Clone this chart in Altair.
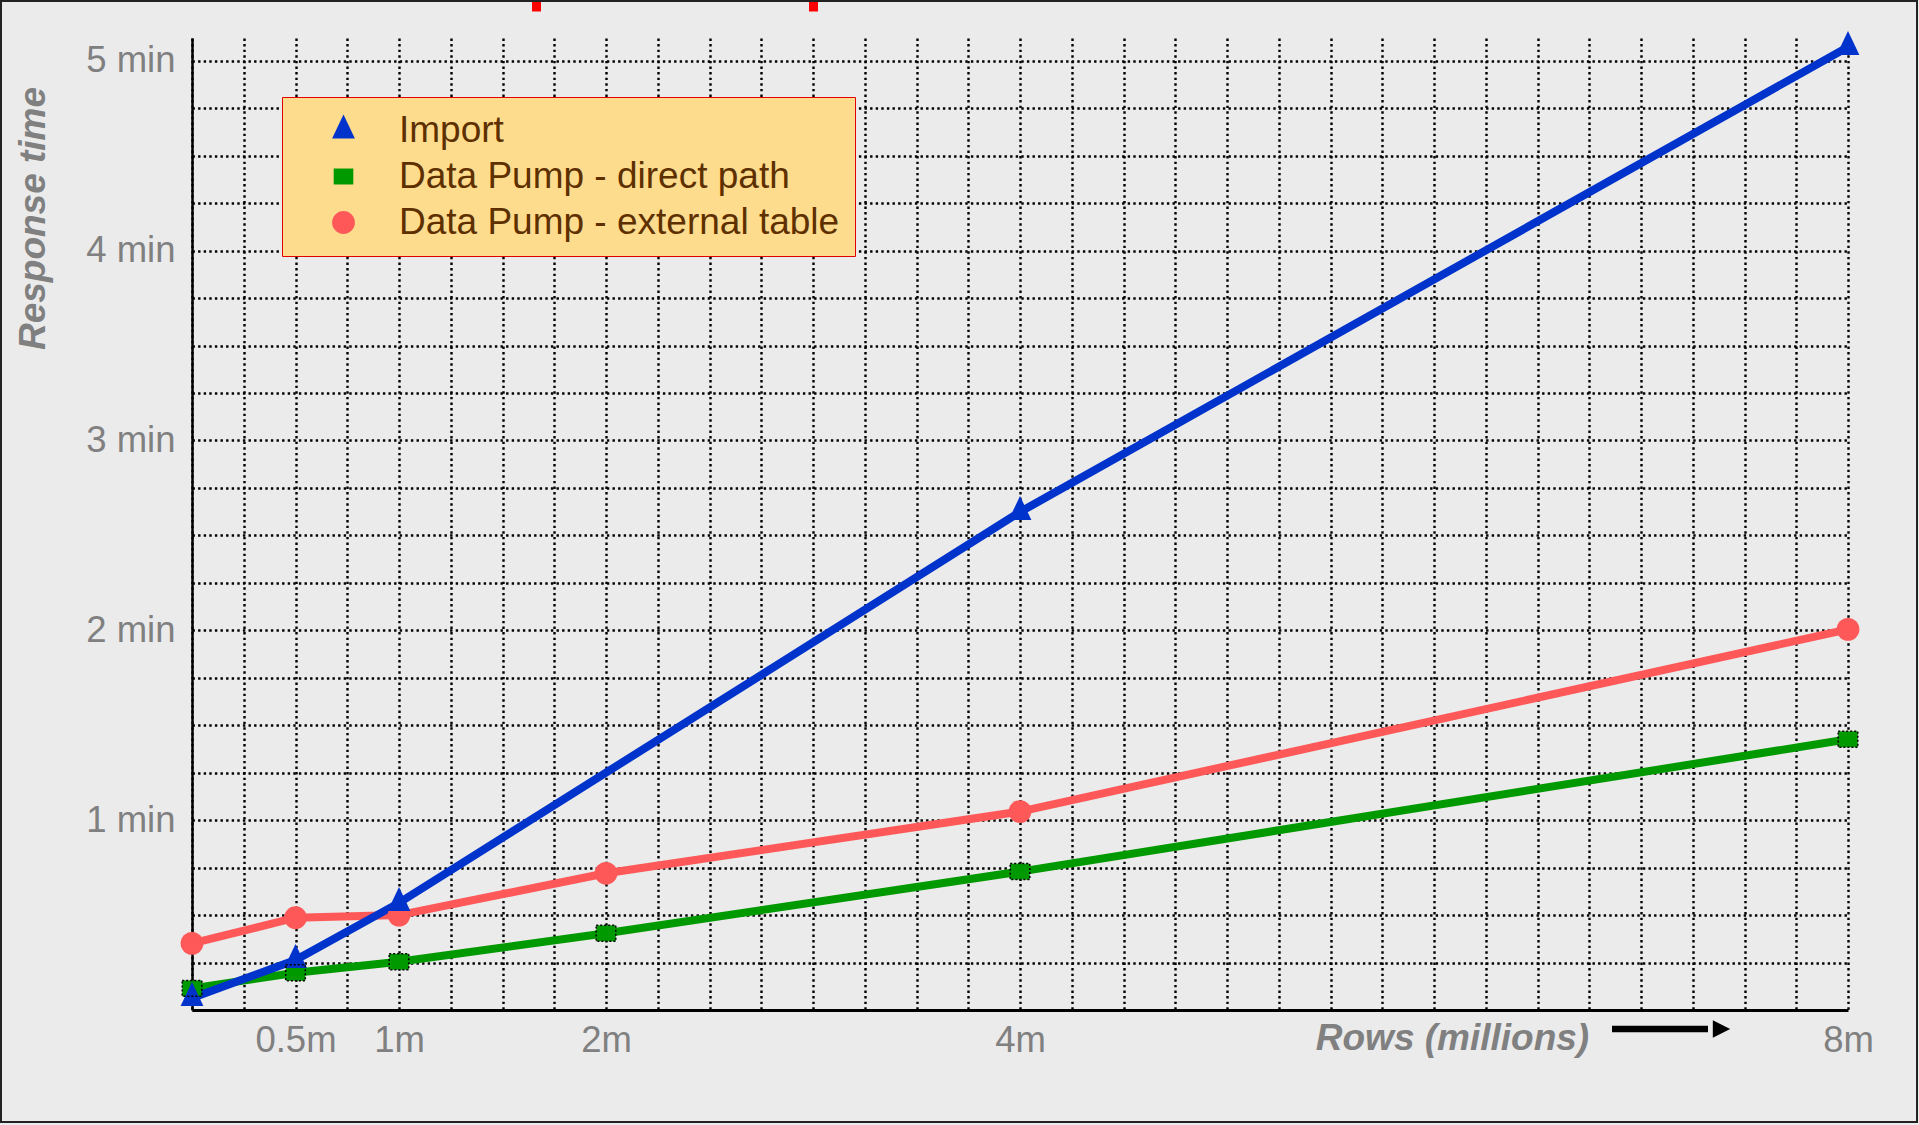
import altair as alt
import pandas as pd

# ---------------- data ----------------
rows_all = [0, 0.5, 1, 2, 4, 8]
rows_import = [0, 0.5, 1, 4, 8]
import_min = [0.063, 0.263, 0.564, 2.623, 5.073]
direct_min = [0.114, 0.196, 0.254, 0.404, 0.729, 1.426]
external_min = [0.351, 0.486, 0.500, 0.720, 1.045, 2.005]

series_names = ["Import", "Data Pump - direct path", "Data Pump - external table"]
series_colors = ["#0033CC", "#009900", "#FF5858"]
series_shapes = ["M0,-1.4L1,0.7L-1,0.7Z", "M-0.86,-0.7L0.86,-0.7L0.86,0.7L-0.86,0.7Z", "circle"]
marker_size = 520

x_grid = [0, 0.25, 0.5, 0.75, 1, 1.25, 1.5, 1.75, 2, 2.25, 2.5, 2.75, 3, 3.25, 3.5, 3.75,
          4, 4.25, 4.5, 4.75, 5, 5.25, 5.5, 5.75, 6, 6.25, 6.5, 6.75, 7, 7.25, 7.5, 7.75, 8]
x_labels = [0.5, 1, 2, 4, 8]
y_grid = [0, 0.25, 0.5, 0.75, 1, 1.25, 1.5, 1.75, 2, 2.25, 2.5, 2.75, 3, 3.25, 3.5, 3.75,
          4, 4.25, 4.5, 4.75, 5]
y_labels = [1, 2, 3, 4, 5]

records = []
for r, v in zip(rows_all, external_min):
    records.append({"rows": r, "minutes": v, "series": series_names[2]})
for r, v in zip(rows_all, direct_min):
    records.append({"rows": r, "minutes": v, "series": series_names[1]})
for r, v in zip(rows_import, import_min):
    records.append({"rows": r, "minutes": v, "series": series_names[0]})
df = pd.DataFrame(records)
df["line_series"] = df["series"]

# line colours in the (alphabetical) order of the line scale's own data domain
color_of = dict(zip(series_names, series_colors))
line_range = [color_of[n] for n in sorted(series_names)]

FONT = "Liberation Sans"
GREY = "#808080"

x_expr = "indexof([%s], datum.value) >= 0 ? datum.value + 'm' : ''" % ",".join(str(v) for v in x_labels)
y_expr = "indexof([%s], datum.value) >= 0 ? datum.value + ' min' : ''" % ",".join(str(v) for v in y_labels)

x_enc = alt.X(
    "rows:Q",
    scale=alt.Scale(domain=[0, 8], nice=False, zero=False),
    axis=alt.Axis(
        values=x_grid, labelExpr=x_expr, labelOverlap=False, labelFlush=False,
        grid=True, gridColor="black", gridDash=[2.4, 3.2], gridWidth=2.4, gridOpacity=1,
        ticks=False, domainColor="black", domainWidth=3,
        labelFont=FONT, labelFontSize=36.5, labelColor=GREY, labelPadding=12,
        title="Rows (millions)", titleFont=FONT, titleFontSize=37, titleFontStyle="italic",
        titleFontWeight="bold", titleColor=GREY, titleX=1260, titleY=39,
        titleBaseline="alphabetic", titleAlign="center",
    ),
)
y_enc = alt.Y(
    "minutes:Q",
    scale=alt.Scale(domain=[0, 5.12], nice=False, zero=False),
    axis=alt.Axis(
        values=y_grid, labelExpr=y_expr, labelOverlap=False, labelFlush=False,
        grid=True, gridColor="black", gridDash=[2.4, 3.2], gridWidth=2.4, gridOpacity=1,
        ticks=False, domainColor="black", domainWidth=2.5,
        labelFont=FONT, labelFontSize=36.5, labelColor=GREY, labelPadding=17,
        title="Response time", titleFont=FONT, titleFontSize=37, titleFontStyle="italic",
        titleFontWeight="bold", titleColor=GREY, titleX=-148, titleY=180, titleAngle=270,
        titleBaseline="alphabetic", titleAlign="center",
    ),
)

lines = alt.Chart(df).mark_line(strokeWidth=8).encode(
    x=x_enc, y=y_enc,
    stroke=alt.Stroke("line_series:N", scale=alt.Scale(range=line_range), legend=None),
    order=alt.Order("rows:Q"),
)

legend = alt.Legend(
    orient="none", legendX=90, legendY=59, title=None,
    fillColor="#FDDC8E", strokeColor="#E00000", padding=15,
    symbolOffset=28, labelOffset=37, rowPadding=8,
    labelFont=FONT, labelFontSize=37, labelColor="#5E3000", labelLimit=800,
    symbolStrokeWidth=0, symbolOpacity=1, symbolSize=marker_size,
)

points = alt.Chart(df).mark_point(filled=True, opacity=1, strokeWidth=0, size=marker_size).encode(
    x="rows:Q", y="minutes:Q",
    color=alt.Color("series:N", title=None, scale=alt.Scale(domain=series_names, range=series_colors), legend=legend),
    shape=alt.Shape("series:N", title=None, scale=alt.Scale(domain=series_names, range=series_shapes), legend=legend),
)

square_edges = alt.Chart(df).transform_filter(
    alt.datum.series == series_names[1]
).mark_point(shape=series_shapes[1], filled=False, stroke="black", strokeDash=[2, 2],
             strokeWidth=1.5, size=marker_size, opacity=1).encode(x="rows:Q", y="minutes:Q")

one = pd.DataFrame({"k": [0]})
arrow_shaft = alt.Chart(one).mark_rule(color="black", strokeWidth=6.5).encode(
    x=alt.value(1420), x2=alt.value(1516), y=alt.value(991))
arrow_head = alt.Chart(one).mark_point(shape="M-1,-1L1,0L-1,1Z", filled=True, color="black",
                                       size=300, opacity=1).encode(x=alt.value(1529.5), y=alt.value(991))
red_marks = alt.Chart(one).mark_rect(color="#FF0000").encode(
    x=alt.value(340), x2=alt.value(349), y=alt.value(-38), y2=alt.value(-26.5))
red_marks2 = alt.Chart(one).mark_rect(color="#FF0000").encode(
    x=alt.value(617), x2=alt.value(626), y=alt.value(-38), y2=alt.value(-26.5))
border = alt.Chart(one).mark_rect(fillOpacity=0, stroke="#222222", strokeWidth=2).encode(
    x=alt.value(-191), x2=alt.value(1725), y=alt.value(-37), y2=alt.value(1084))

chart = alt.layer(
    lines, points, square_edges, arrow_shaft, arrow_head, red_marks, red_marks2, border
).properties(
    width=1656, height=972,
    autosize=alt.AutoSizeParams(type="none"),
    padding={"left": 192, "top": 38, "right": 71, "bottom": 115},
    background="#EBEBEB",
).configure_view(stroke=None)

chart.save("out.html", embed_options={"renderer": "svg", "actions": False})
